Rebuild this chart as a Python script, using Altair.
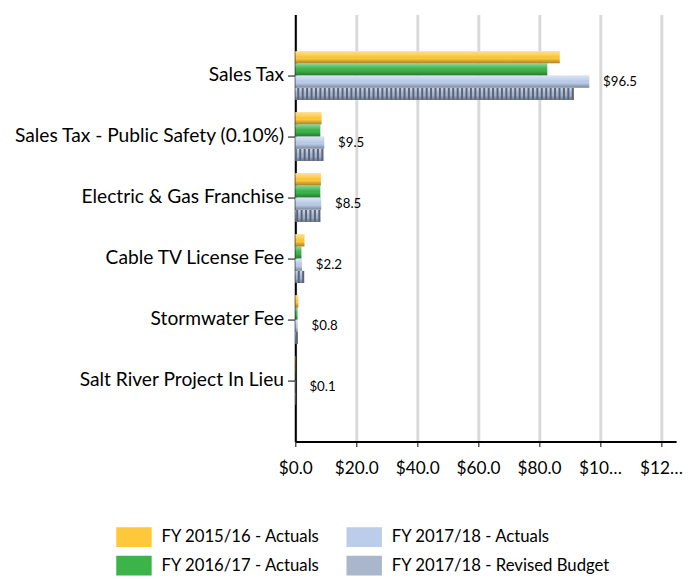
import altair as alt
import pandas as pd

categories = ["Sales Tax", "Sales Tax - Public Safety (0.10%)", "Electric & Gas Franchise",
              "Cable TV License Fee", "Stormwater Fee", "Salt River Project In Lieu"]
series = ["FY 2015/16 - Actuals", "FY 2016/17 - Actuals", "FY 2017/18 - Actuals",
          "FY 2017/18 - Revised Budget"]
fy1516_actuals = [86.8, 8.6, 8.4, 3.0, 1.0, 0.1]
fy1617_actuals = [82.7, 8.2, 8.2, 2.0, 0.7, 0.1]
fy1718_actuals = [96.5, 9.5, 8.5, 2.2, 0.8, 0.1]
fy1718_budget = [91.4, 9.2, 8.2, 2.9, 0.8, 0.1]
series_colors = ["#FFC83A", "#3CB449", "#BBCDEA", "#A9B6CC"]

x_tick_values = [0, 20, 40, 60, 80, 100, 120]
x_tick_labels = ["$0.0", "$20.0", "$40.0", "$60.0", "$80.0", "$10…", "$12…"]

rows = []
for s, vals in zip(series, [fy1516_actuals, fy1617_actuals, fy1718_actuals, fy1718_budget]):
    for c, v in zip(categories, vals):
        rows.append({"category": c, "series": s, "value": v})
df = pd.DataFrame(rows)

label_expr = "''"
for v, l in reversed(list(zip(x_tick_values, x_tick_labels))):
    label_expr = f"datum.value == {v} ? '{l}' : ({label_expr})"

# legend order row-major so that columns read like the reference
legend_order = [series[0], series[2], series[1], series[3]]
legend_colors = [series_colors[0], series_colors[2], series_colors[1], series_colors[3]]

FONT = "Lato"

y_enc = alt.Y("category:N", sort=categories,
              scale=alt.Scale(paddingInner=0.2, paddingOuter=0.6),
              axis=alt.Axis(title=None, labelFont=FONT, labelFontSize=19.5, labelColor="#000",
                            tickColor="#000", tickSize=8, domainColor="#000", domainWidth=2,
                            labelPadding=4, labelLimit=400, grid=False))
yoff = alt.YOffset("series:N", sort=series, scale=alt.Scale(paddingInner=0, paddingOuter=0))
x_enc = alt.X("value:Q", scale=alt.Scale(domain=[0, 125], nice=False),
              axis=alt.Axis(values=x_tick_values, labelExpr=label_expr, title=None, grid=True,
                            gridColor="#D9D9D9", gridWidth=3, domainColor="#000", domainWidth=2,
                            tickColor="#000", tickSize=5, labelFont=FONT, labelFontSize=17.5,
                            labelColor="#000", labelPadding=13, labelFlush=False,
                            labelOverlap=False))

base = alt.Chart(df)

bars = base.mark_bar().encode(
    x=x_enc, y=y_enc, yOffset=yoff,
    color=alt.Color("series:N", scale=alt.Scale(domain=legend_order, range=legend_colors),
                    legend=alt.Legend(orient="none", legendX=-174, legendY=521, columns=2,
                                      title=None, direction="horizontal",
                                      symbolType="M-1.8,-1L1.8,-1L1.8,1L-1.8,1Z", symbolSize=400,
                                      symbolStrokeWidth=0, symbolOpacity=1, labelOffset=18,
                                      labelFont=FONT, labelFontSize=17, labelColor="#000",
                                      rowPadding=9, columnPadding=26, labelLimit=300)))

shade = base.mark_bar(color=alt.Gradient(
    gradient="linear", x1=0, x2=0, y1=0, y2=1,
    stops=[alt.GradientStop(color="rgba(255,255,255,0.45)", offset=0),
           alt.GradientStop(color="rgba(255,255,255,0.1)", offset=0.35),
           alt.GradientStop(color="rgba(0,0,0,0)", offset=0.6),
           alt.GradientStop(color="rgba(0,0,0,0.35)", offset=1)])).encode(
    x="value:Q", y=alt.Y("category:N", sort=categories), yOffset=yoff)

hatch = base.transform_filter(alt.datum.series == series[3]).transform_calculate(
    zero="0").mark_rule(strokeDash=[2, 2.5], strokeWidth=12, color="#56647E").encode(
    x="value:Q", x2="zero:Q", y=alt.Y("category:N", sort=categories), yOffset=yoff)

labels = base.transform_filter(alt.datum.series == series[2]).transform_calculate(
    lbl="'$' + format(datum.value, '.1f')").mark_text(
    align="left", baseline="middle", dx=14, font=FONT, fontSize=13.5, color="#000").encode(
    x="value:Q", y=alt.Y("category:N", sort=categories), yOffset=yoff, text="lbl:N")

chart = alt.layer(bars, shade, hatch, labels).properties(
    width=387, height=434,
    padding={"left": 5, "top": 2, "right": 1, "bottom": 0},
).configure_view(stroke=None)

chart.save("out.html", embed_options={"renderer": "svg", "actions": False})
